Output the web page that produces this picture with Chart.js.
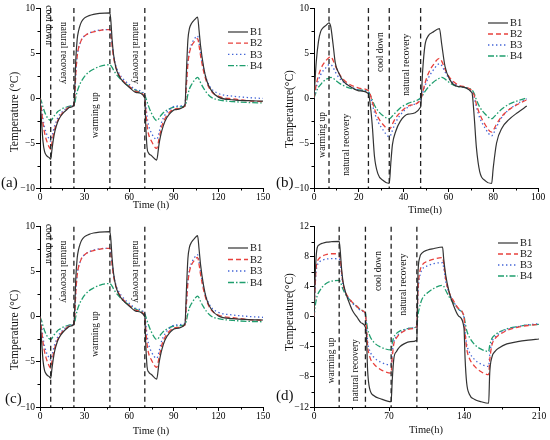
<!DOCTYPE html>
<html>
<head>
<meta charset="utf-8">
<script src="https://cdn.jsdelivr.net/npm/chart.js@4.4.0/dist/chart.umd.min.js"></script>
<style>
  body { margin: 0; background: #fff; }
  #grid { display: grid; grid-template-columns: 275px 275px; grid-template-rows: 220px 220px; width: 550px; height: 440px; }
  canvas { display: block; }
</style>
</head>
<body>
<div id="grid">
  <canvas id="ca" width="275" height="220"></canvas>
  <canvas id="cb" width="275" height="220"></canvas>
  <canvas id="cc" width="275" height="220"></canvas>
  <canvas id="cd" width="275" height="220"></canvas>
</div>
<script>
// ---- data (time in h, temperature in °C) ----
const seriesNames = ["B1", "B2", "B3", "B4"];

// panels (a) and (c)
const aTime = [0,1,2,3,4,5,6,7.2,8,9,10,11,12,14,16,18,20,22.8,23.5,24,25,26,27,28,30,33,36,40,47,47.7,48.5,49.5,51,53,56,60,65,70.5,71,72,73,75,78.5,80,81,82,84,87,91,97.5,98.5,99.5,100.5,102,104,106,107,108,110,112,115,120,130,140,150];
const aB1 = [0,-2.5,-4.8,-5.9,-6.3,-6.5,-6.6,-6.8,-5.8,-4.6,-3.7,-3.1,-2.6,-2.0,-1.6,-1.3,-1.05,-0.8,1.5,4.0,6.5,7.5,8.1,8.5,8.9,9.15,9.3,9.4,9.45,8.5,6.5,4.8,3.4,2.5,1.8,1.2,0.6,0.0,-2.5,-5.5,-6.1,-6.4,-6.9,-5.2,-4.3,-3.6,-2.6,-1.8,-1.3,-0.8,3.0,6.5,7.7,8.3,8.7,9.0,7.5,5.8,3.5,2.0,0.9,0.1,-0.2,-0.3,-0.35];
const aB2 = [0,-1.3,-2.8,-3.8,-4.5,-5.0,-5.4,-5.7,-5.0,-4.1,-3.4,-2.9,-2.5,-1.9,-1.5,-1.2,-1.0,-0.8,0.5,2.5,4.6,5.6,6.1,6.5,6.9,7.2,7.35,7.5,7.6,7.0,5.8,4.5,3.4,2.6,1.9,1.3,0.7,0.1,-1.0,-3.0,-4.0,-4.8,-5.6,-4.6,-3.8,-3.1,-2.3,-1.6,-1.2,-0.9,1.5,3.8,5.0,5.8,6.3,6.6,5.8,4.7,3.0,1.8,0.8,0.2,-0.1,-0.3,-0.4];
const aB3 = [0,-1.0,-2.3,-3.2,-3.8,-4.2,-4.5,-4.8,-4.3,-3.6,-3.0,-2.6,-2.2,-1.7,-1.4,-1.1,-0.95,-0.75,0.5,2.5,4.6,5.6,6.1,6.5,6.9,7.2,7.4,7.55,7.6,7.1,6.0,4.7,3.6,2.8,2.1,1.5,0.9,0.3,-0.5,-2.0,-3.0,-3.9,-4.6,-3.9,-3.2,-2.6,-1.9,-1.3,-0.9,-0.7,1.6,4.0,5.2,6.0,6.6,6.9,6.1,5.0,3.3,2.1,1.1,0.5,0.2,0.05,-0.05];
const aB4 = [0,-0.4,-1.0,-1.5,-1.9,-2.2,-2.4,-2.5,-2.4,-2.1,-1.9,-1.7,-1.5,-1.3,-1.1,-1.0,-0.9,-0.8,-0.5,0.0,0.7,1.2,1.6,1.9,2.4,2.9,3.2,3.5,3.7,3.6,3.4,3.1,2.7,2.3,1.8,1.3,0.8,0.3,0.1,-0.4,-0.9,-1.7,-2.5,-2.3,-2.0,-1.8,-1.5,-1.2,-1.0,-0.9,-0.4,0.4,1.0,1.5,2.0,2.3,2.1,1.7,1.1,0.6,0.1,-0.2,-0.4,-0.5,-0.55];
const aPhases = [7.2, 22.8, 47, 70.5];

// panel (b)
const bTime = [0,1,2,3,4,5.5,6.7,7.5,8.5,9.5,11,13,16,20,24.3,25,26,27,28.5,31,33.6,34.3,35,36.5,38.5,42,47.6,48.5,49.5,51,53,56,57,58.5,60.5,64,70.5,71.5,72.5,74,76.5,79.3,80,81.5,84,87,91,95];
const bB1 = [0,4.0,6.3,7.4,7.8,8.1,8.35,7.9,6.0,3.9,2.8,1.9,1.3,0.8,0.5,-0.5,-3.0,-6.5,-8.4,-9.2,-9.5,-7.2,-5.2,-3.7,-2.6,-1.8,-1.0,3.0,5.8,6.9,7.3,7.7,6.0,3.5,2.1,1.3,0.6,-2.0,-5.5,-8.2,-9.2,-9.5,-7.8,-5.0,-3.3,-2.4,-1.6,-0.9];
const bB2 = [0,1.5,2.5,3.2,3.7,4.2,4.5,4.6,4.2,3.6,2.8,2.1,1.5,1.1,0.8,0.5,-0.4,-1.2,-2.1,-3.0,-3.5,-3.3,-2.9,-2.2,-1.6,-0.9,-0.2,0.6,1.6,2.7,3.6,4.4,4.1,3.2,2.3,1.5,0.8,0.3,-0.7,-1.8,-3.0,-3.8,-3.6,-2.9,-2.0,-1.3,-0.7,-0.2];
const bB3 = [0,1.2,2.0,2.6,3.0,3.4,3.7,3.7,3.4,2.9,2.3,1.8,1.3,0.9,0.6,0.3,-0.7,-1.6,-2.6,-3.6,-4.3,-4.1,-3.6,-2.7,-1.9,-1.0,-0.1,0.5,1.3,2.2,3.0,3.8,3.6,2.9,2.1,1.4,0.7,0.1,-1.0,-2.2,-3.4,-4.2,-4.0,-3.2,-2.1,-1.3,-0.6,-0.1];
const bB4 = [0,0.7,1.2,1.5,1.8,2.1,2.2,2.3,2.2,2.0,1.7,1.4,1.1,0.9,0.7,0.4,-0.2,-0.8,-1.4,-2.0,-2.3,-2.2,-2.0,-1.6,-1.1,-0.6,0.0,0.3,0.7,1.2,1.7,2.2,2.3,2.1,1.7,1.3,0.9,0.5,-0.2,-1.0,-1.8,-2.3,-2.2,-1.8,-1.2,-0.7,-0.3,0.0];
const bPhases = [6.7, 24.3, 33.6, 47.6];

// panel (d)
const dTime = [0,1,2,3,5,8,12,16,23.5,24.5,25.5,27,29,32,36,40,44,48,49,50,52,56,62,72,73,74.5,77,80,84,90,96,97,98.5,101,106,112,120,121,123,126,130,135,140,141,142.5,145,150,156,163,164,166,169,173,180,190,200,210];
const dB1 = [0,5.0,8.0,9.2,9.6,9.8,9.95,10.0,10.05,8.8,6.8,4.8,3.5,2.2,0.8,0.0,-0.8,-1.4,-2.7,-7.0,-9.6,-10.5,-10.9,-11.3,-8.5,-5.6,-4.6,-4.0,-3.6,-3.3,-3.1,5.5,7.8,8.5,8.9,9.1,9.3,7.8,5.5,3.4,1.6,0.1,-1.5,-5.5,-8.8,-10.3,-11.0,-11.3,-11.5,-7.5,-5.4,-4.6,-4.1,-3.6,-3.3,-3.1,-2.95];
const dB2 = [0,4.0,6.5,7.3,7.8,8.1,8.3,8.4,8.4,7.8,6.3,4.5,3.4,2.6,1.9,1.4,0.9,0.4,-1.5,-3.8,-5.3,-6.3,-7.0,-7.5,-5.5,-3.6,-2.8,-2.3,-1.9,-1.6,-1.3,3.5,5.8,6.9,7.4,7.7,7.9,7.2,5.0,3.3,2.2,1.1,0.0,-2.0,-4.2,-5.5,-6.6,-7.3,-7.7,-5.8,-3.8,-2.9,-2.4,-1.8,-1.4,-1.15,-1.0];
const dB3 = [0,3.6,6.0,6.8,7.3,7.55,7.7,7.75,7.7,7.2,5.9,4.3,3.3,2.5,1.8,1.3,0.8,0.3,-1.3,-3.2,-4.5,-5.4,-6.0,-6.4,-4.8,-3.3,-2.6,-2.2,-1.8,-1.5,-1.3,3.0,5.2,6.3,6.8,7.1,7.2,6.6,4.7,3.2,2.1,1.0,-0.1,-1.8,-3.6,-4.7,-5.7,-6.3,-6.6,-5.0,-3.4,-2.7,-2.2,-1.7,-1.3,-1.05,-0.9];
const dB4 = [0,1.3,2.2,2.8,3.4,4.0,4.5,4.75,4.85,4.7,4.3,3.7,3.1,2.5,1.9,1.4,0.9,0.5,-0.6,-1.6,-2.5,-3.4,-4.0,-4.4,-3.5,-2.7,-2.2,-1.9,-1.7,-1.5,-1.3,0.2,1.3,2.4,3.2,3.8,4.2,4.1,3.5,2.7,1.9,1.0,0.1,-0.7,-1.8,-2.7,-3.7,-4.3,-4.6,-3.8,-2.9,-2.4,-2.0,-1.6,-1.3,-1.1,-1.0];
const dPhases = [23.5, 48, 72, 96];

// ---- styles ----
const SERIF = '"Liberation Serif", "DejaVu Serif", serif';
const colors = ["#333333", "#e8413c", "#4466d6", "#1f9e6e"];
const dashes = [[], [5, 3], [1.4, 2.6], [6, 2, 1.5, 2]];

Chart.defaults.font.family = SERIF;
Chart.defaults.font.size = 9.5;
Chart.defaults.color = "#000";

function fmt(v) {
  return v < 0 ? "\u2212" + Math.abs(v) : String(v);
}

function decor(o) {
  return {
    id: "decor",
    afterDatasetsDraw(chart) {
      const { ctx, chartArea: a, scales: { x } } = chart;
      ctx.save();
      ctx.strokeStyle = "#222";
      ctx.lineWidth = 1.3;
      ctx.setLineDash([5, 3.5]);
      o.phases.forEach(p => {
        const px = x.getPixelForValue(p);
        ctx.beginPath();
        ctx.moveTo(px, a.top);
        ctx.lineTo(px, a.bottom);
        ctx.stroke();
      });
      ctx.restore();
    },
    afterDraw(chart) {
      const { ctx, chartArea: a, scales: { x, y } } = chart;
      ctx.save();
      // minor ticks
      ctx.strokeStyle = "#000";
      ctx.lineWidth = 1;
      ctx.beginPath();
      for (let v = x.min; v <= x.max + 1e-9; v += o.xMinor) {
        if (Math.abs(v / o.xStep - Math.round(v / o.xStep)) < 1e-6) continue;
        const px = Math.round(x.getPixelForValue(v)) + 0.5;
        ctx.moveTo(px, a.bottom); ctx.lineTo(px, a.bottom + 2.5);
      }
      for (let v = y.min; v <= y.max + 1e-9; v += o.yMinor) {
        if (Math.abs(v / o.yStep - Math.round(v / o.yStep)) < 1e-6) continue;
        const py = Math.round(y.getPixelForValue(v)) + 0.5;
        ctx.moveTo(a.left, py); ctx.lineTo(a.left - 2.5, py);
      }
      ctx.stroke();

      // phase notes, rotated
      ctx.fillStyle = "#111";
      ctx.font = "9.5px " + SERIF;
      ctx.textAlign = "center";
      ctx.textBaseline = "middle";
      o.notes.forEach(n => {
        ctx.save();
        ctx.translate(x.getPixelForValue(n.x), y.getPixelForValue(n.y));
        ctx.rotate(n.r * Math.PI / 2);
        ctx.fillText(n.text, 0, 0);
        ctx.restore();
      });

      // legend
      const L = o.legend;
      ctx.font = "10.5px " + SERIF;
      ctx.textAlign = "left";
      chart.data.datasets.forEach((ds, i) => {
        const ly = L.y + i * L.dy;
        ctx.save();
        ctx.strokeStyle = ds.borderColor;
        ctx.lineWidth = ds.borderWidth;
        ctx.setLineDash(ds.borderDash);
        ctx.beginPath();
        ctx.moveTo(L.x, ly); ctx.lineTo(L.x + 20, ly);
        ctx.stroke();
        ctx.restore();
        ctx.fillStyle = "#111";
        ctx.fillText(ds.label, L.x + 22, ly + 0.5);
      });

      // axis titles
      ctx.font = "10.5px " + SERIF;
      ctx.textAlign = "center";
      ctx.fillText(o.xTitle[0], o.xTitle[1], o.xTitle[2]);
      ctx.save();
      ctx.translate(o.yTitle[1], o.yTitle[2]);
      ctx.rotate(-Math.PI / 2);
      ctx.font = "11.5px " + SERIF;
      ctx.fillText(o.yTitle[0], 0, 0);
      ctx.restore();

      // panel label
      ctx.font = "15px " + SERIF;
      ctx.textAlign = "left";
      ctx.fillText(o.label[0], o.label[1], o.label[2]);
      ctx.restore();
    }
  };
}

function panel(id, o) {
  const datasets = o.series.map((vals, k) => ({
    label: seriesNames[k],
    data: o.time.map((t, i) => ({ x: t, y: vals[i] })),
    borderColor: colors[k],
    borderDash: dashes[k],
    borderWidth: k === 0 ? 1.2 : 1.3,
    pointRadius: 0,
    cubicInterpolationMode: "monotone",
    fill: false
  }));

  new Chart(document.getElementById(id), {
    type: "line",
    data: { datasets },
    options: {
      responsive: false,
      animation: false,
      events: [],
      layout: { padding: { left: 0, top: o.top, right: o.right, bottom: 0 } },
      plugins: { legend: { display: false }, tooltip: { enabled: false } },
      scales: {
        x: {
          type: "linear", min: 0, max: o.xMax,
          ticks: { stepSize: o.xStep, padding: 0, maxRotation: 0, callback: fmt },
          grid: { display: true, drawOnChartArea: false, tickLength: 4, color: "#000" },
          border: { color: "#000", width: 1 },
          afterFit: s => { s.height = o.xH; }
        },
        y: {
          min: o.yMin, max: o.yMax,
          ticks: { stepSize: o.yStep, padding: 1, callback: fmt },
          grid: { display: true, drawOnChartArea: false, tickLength: 4, color: "#000" },
          border: { color: "#000", width: 1 },
          afterFit: s => { s.width = o.yW; }
        }
      }
    },
    plugins: [decor(o)]
  });
}

const notesA = [
  { text: "cool down", x: 5.6, y: 8.1, r: 1 },
  { text: "natural recovery", x: 16.1, y: 5.0, r: 1 },
  { text: "warming up", x: 37, y: -1.9, r: -1 },
  { text: "natural recovery", x: 64.5, y: 5.0, r: 1 }
];

panel("ca", {
  time: aTime, series: [aB1, aB2, aB3, aB4], phases: aPhases, notes: notesA,
  xMax: 150, xStep: 30, xMinor: 15, yMin: -10, yMax: 10, yStep: 5, yMinor: 2.5,
  top: 8, right: 12, xH: 32, yW: 40,
  legend: { x: 228, y: 32, dy: 11.2 },
  xTitle: ["Time (h)", 151, 205], yTitle: ["Temperature (\u00B0C)", 15, 112],
  label: ["(a)", 1, 183]
});

panel("cb", {
  time: bTime, series: [bB1, bB2, bB3, bB4], phases: bPhases,
  notes: [
    { text: "warming up", x: 4, y: -4.1, r: -1 },
    { text: "natural recovery", x: 14.6, y: -5.2, r: -1 },
    { text: "cool down", x: 29.5, y: 5.1, r: -1 },
    { text: "natural recovery", x: 41.4, y: 3.7, r: -1 }
  ],
  xMax: 100, xStep: 20, xMinor: 10, yMin: -10, yMax: 10, yStep: 5, yMinor: 2.5,
  top: 8, right: 12, xH: 32, yW: 39,
  legend: { x: 213, y: 23, dy: 11 },
  xTitle: ["Time(h)", 150, 210], yTitle: ["Temperature(\u00B0C)", 15, 109],
  label: ["(b)", 1, 183]
});

panel("cc", {
  time: aTime, series: [aB1, aB2, aB3, aB4], phases: aPhases, notes: notesA,
  xMax: 150, xStep: 30, xMinor: 15, yMin: -10, yMax: 10, yStep: 5, yMinor: 2.5,
  top: 6, right: 12, xH: 33, yW: 40,
  legend: { x: 228, y: 28, dy: 11.5 },
  xTitle: ["Time (h)", 151, 211], yTitle: ["Temperature (\u00B0C)", 15, 110],
  label: ["(c)", 5, 179]
});

panel("cd", {
  time: dTime, series: [dB1, dB2, dB3, dB4], phases: dPhases,
  notes: [
    { text: "warming up", x: 16.5, y: -5.8, r: -1 },
    { text: "natural recovery", x: 38.3, y: -7.1, r: -1 },
    { text: "cool down", x: 60, y: 6.1, r: -1 },
    { text: "natural recovery", x: 83.4, y: 4.3, r: -1 }
  ],
  xMax: 210, xStep: 70, xMinor: 35, yMin: -12, yMax: 12, yStep: 4, yMinor: 2,
  top: 6, right: 11, xH: 33, yW: 39,
  legend: { x: 223, y: 23, dy: 11 },
  xTitle: ["Time(h)", 151, 210], yTitle: ["Temperature(\u00B0C)", 15, 92],
  label: ["(d)", 1, 176]
});
</script>
</body>
</html>
